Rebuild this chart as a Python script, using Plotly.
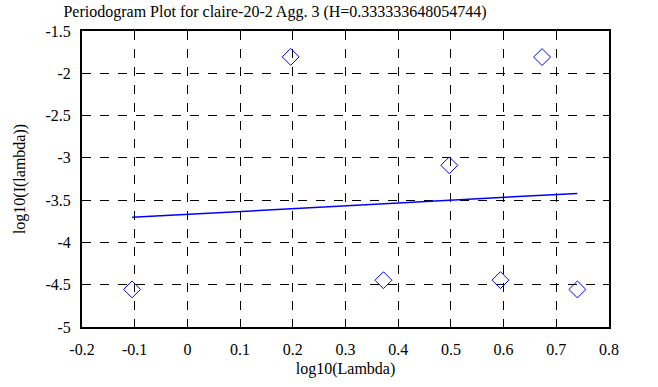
import plotly.graph_objects as go

log_lambda = [-0.105, 0.196, 0.372, 0.497, 0.594, 0.673, 0.740]
log_I = [-4.555, -1.806, -4.447, -3.088, -4.446, -1.808, -4.556]
fit_x = [-0.105, 0.740]
fit_y = [-3.703, -3.420]

x_ticks = [-0.2, -0.1, 0, 0.1, 0.2, 0.3, 0.4, 0.5, 0.6, 0.7, 0.8]
x_tick_text = ["-0.2", "-0.1", "0", "0.1", "0.2", "0.3", "0.4", "0.5", "0.6", "0.7", "0.8"]
y_ticks = [-5, -4.5, -4, -3.5, -3, -2.5, -2, -1.5]
y_tick_text = ["-5", "-4.5", "-4", "-3.5", "-3", "-2.5", "-2", "-1.5"]

font_family = "Liberation Serif, Times New Roman, serif"

fig = go.Figure()
fig.add_trace(go.Scatter(
    x=log_lambda, y=log_I, mode="markers",
    marker=dict(symbol="diamond-open", size=13, color="#0000ff", line=dict(width=1, color="#0000ff")),
    showlegend=False,
))
fig.add_trace(go.Scatter(
    x=fit_x, y=fit_y, mode="lines",
    line=dict(color="#0000ff", width=1.5),
    showlegend=False,
))

axis_common = dict(
    showline=True, linecolor="black", linewidth=2, mirror="ticks",
    ticks="inside", ticklen=6, tickcolor="black", tickwidth=1,
    showgrid=True, gridcolor="black", griddash="dash", gridwidth=1,
    zeroline=False,
    tickfont=dict(family=font_family, size=16, color="black"),
)

fig.update_xaxes(
    range=[-0.2, 0.8], tickvals=x_ticks, ticktext=x_tick_text,
    title=dict(text="log10(Lambda)", font=dict(family=font_family, size=16, color="black"), standoff=6),
    ticklabelstandoff=7,
    **axis_common,
)
fig.update_yaxes(
    range=[-5, -1.5], tickvals=y_ticks, ticktext=y_tick_text,
    title=dict(text="log10(I(lambda))", font=dict(family=font_family, size=16, color="black"), standoff=16),
    ticklabelstandoff=6,
    **axis_common,
)

fig.update_layout(
    width=658, height=387,
    margin=dict(l=82, r=49, t=31, b=57),
    paper_bgcolor="white", plot_bgcolor="white",
    title=dict(text="Periodogram Plot for claire-20-2 Agg. 3 (H=0.333333648054744)",
               font=dict(family=font_family, size=16, color="black"),
               x=0.418, xanchor="center", y=0.97, yanchor="middle"),
    font=dict(family=font_family, color="black"),
)

fig.write_html("out.html", config={"displayModeBar": False},
               post_script="document.body.style.margin='0';")
